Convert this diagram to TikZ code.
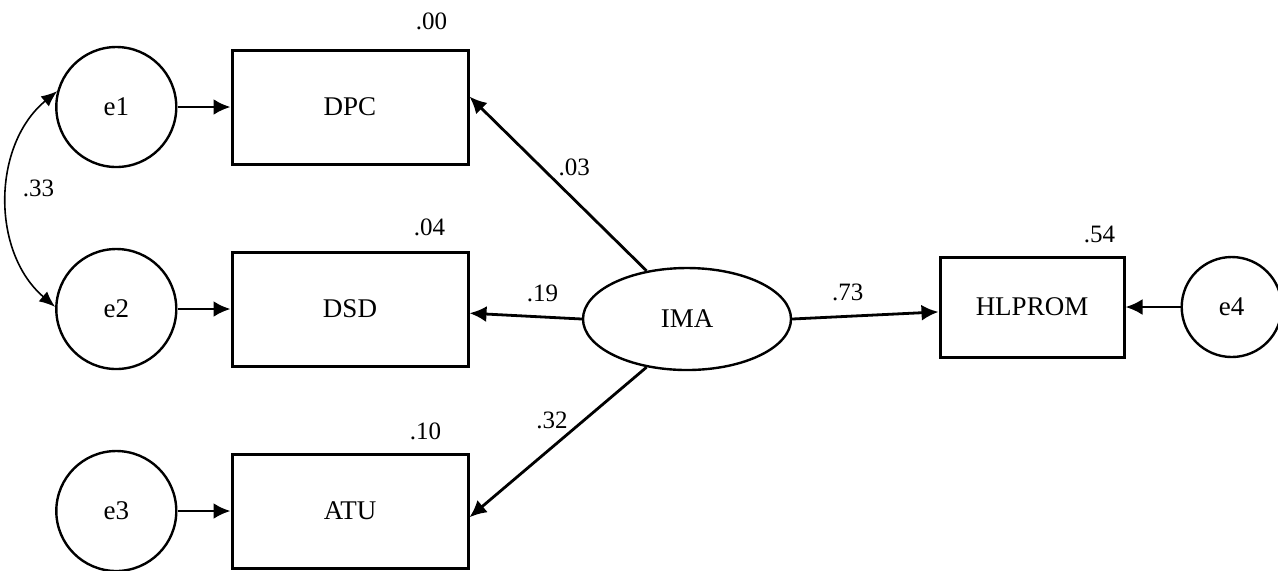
\documentclass[tikz,border=0pt]{standalone}
\usepackage{fontspec}
\setmainfont{Liberation Serif}
\usetikzlibrary{arrows.meta,positioning,shapes.geometric}
\tikzset{
  obsbox/.style={rectangle,draw=black,line width=1.5pt,minimum width=118pt,
    minimum height=57pt,inner sep=2pt,font=\fontsize{13.5}{16}\selectfont},
  errvar/.style={circle,draw=black,line width=1.2pt,minimum size=60pt,
    inner sep=1pt,font=\fontsize{13.5}{16}\selectfont},
  latentvar/.style={ellipse,draw=black,line width=1.2pt,minimum width=104pt,
    minimum height=51pt,inner sep=1pt,font=\fontsize{13.5}{16}\selectfont},
  effect/.style={-{Latex[length=8.5pt,width=8pt]},line width=1.4pt},
  covar/.style={{Latex[length=8pt,width=6.5pt]}-{Latex[length=8pt,width=6.5pt]},
    line width=0.8pt},
  coef/.style={inner sep=0pt,font=\fontsize{12.5}{14}\selectfont}
}
\begin{document}
\begin{tikzpicture}[x=0.5pt,y=0.5pt,node distance=42.5pt and 26.5pt]
  \useasboundingbox (0,0) rectangle (1278,-570);
  \node[obsbox] (dpc) at (350,-107) {DPC};
  \node[obsbox,below=of dpc] (dsd) {DSD};
  \node[obsbox,below=of dsd] (atu) {ATU};
  \node[errvar,left=of dpc] (e1) {e1};
  \node[errvar,left=of dsd] (e2) {e2};
  \node[errvar,left=of atu] (e3) {e3};
  \node[latentvar] (ima) at (687,-319) {IMA};
  \node[obsbox,minimum width=92pt,minimum height=50pt] (hlprom) at (1032,-307) {HLPROM};
  \node[errvar,minimum size=50pt,right=27.5pt of hlprom] (e4) {e4};
  % squared multiple correlations
  \node[coef,above left=9pt and 11pt of dpc.north east] (rdpc) {.00};
  \node[coef,above left=7pt and 12pt of dsd.north east] (rdsd) {.04};
  \node[coef,above left=6pt and 14pt of atu.north east] (ratu) {.10};
  \node[coef,above left=6pt and 5pt of hlprom.north east] (rhlprom) {.54};
  % error terms
  \draw[effect] (e1) -- (dpc);
  \draw[effect] (e2) -- (dsd);
  \draw[effect] (e3) -- (atu);
  \draw[effect] (e4) -- (hlprom);
  \draw[covar] (e1.165) to[bend right=50]
    node[coef,pos=.46,right=7pt] (kcov) {.33} (e2.178);
  % structural paths
  \draw[effect] (ima.130) -- node[coef,pos=.52,above right=2pt] (kdpc) {.03} (dpc.5);
  \draw[effect] (ima.west) -- node[coef,pos=.35,above=7pt] (kdsd) {.19} (dsd.-2);
  \draw[effect] (ima.230) -- node[coef,pos=.43,above left=1pt] (katu) {.32} (atu.-3);
  \draw[effect] (ima.east) -- node[coef,pos=.38,above=7pt] (khlprom) {.73} (hlprom.183);
\end{tikzpicture}
\end{document}
